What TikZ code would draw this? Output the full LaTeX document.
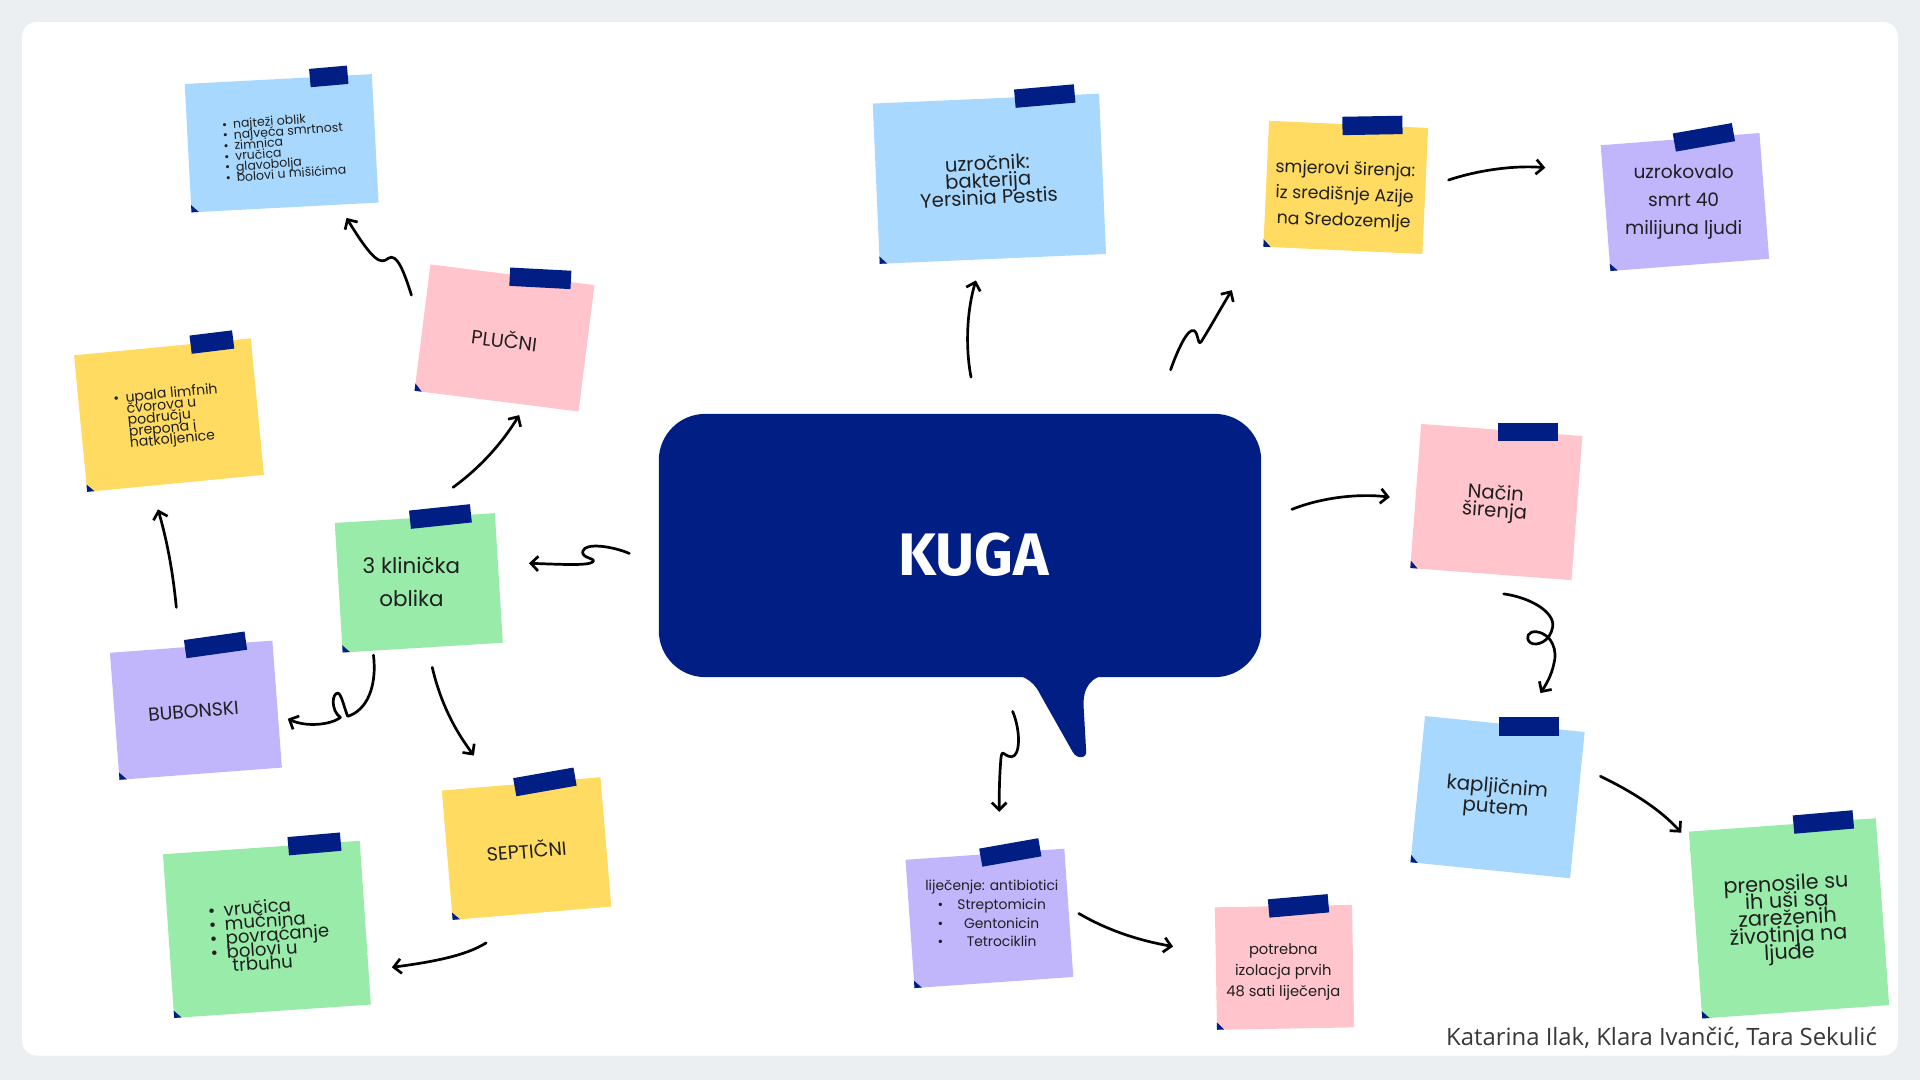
\documentclass[tikz,border=0pt]{standalone}
\usepackage{fontspec}
\setmainfont{Poppins}
\newfontfamily\kugafont{Fira Sans}
\newfontfamily\authfont{Open Sans}
\usetikzlibrary{calc,arrows.meta}
\definecolor{navy}{HTML}{011E84}
\definecolor{cblue}{HTML}{A8D8FE}
\definecolor{cpink}{HTML}{FFC4CC}
\definecolor{cyellow}{HTML}{FFDB62}
\definecolor{cgreen}{HTML}{99EBAA}
\definecolor{cpurple}{HTML}{C1B6FC}
\definecolor{bgray}{HTML}{EBEFF2}
\newcommand\fs[2]{\fontsize{#1}{#2}\selectfont\lineskiplimit=-100pt\relax}
\newcommand\bl[1]{\makebox[#1][l]{\textbullet}}
\newcommand\tapew{50}
\newcommand\postit[9]{%
  \node[notebox, fill=#2, minimum width=#5pt, minimum height=#6pt, rotate=#7] (#1) at (#3,#4) {};
  \node[tapebox, minimum width=\tapew pt, rotate=#9] (#1-tape) at ($(#1.north west)!#8!(#1.north east)$) {};
  \fill[navy] (#1.south west) -- ($(#1.south west)!6pt!(#1.south east)$) -- ($(#1.south west)!6pt!(#1.north west)$) -- cycle;
}
\tikzset{
  notebox/.style={draw=none, inner sep=0pt, outer sep=0pt},
  tapebox/.style={fill=navy, draw=none, minimum height=15pt, inner sep=0pt},
  txt/.style={inner sep=0pt, align=center, text=black!88},
  arr/.style={draw=black, line width=2.2pt, line cap=round, line join=round,
    -{Straight Barb[length=6pt,width=12pt]}},
}
\begin{document}
\begin{tikzpicture}[x=1pt,y=-1pt]
\useasboundingbox (0,0) rectangle (1568,882);
\fill[bgray] (0,0) rectangle (1568,882);
\fill[white, rounded corners=12pt] (18,18) rectangle (1550,862);

% central bubble
\fill[navy, rounded corners=38pt] (538,338) rectangle (1030,553);
\fill[navy] (822,550) .. controls (840,551) and (846,560) .. (850,568) -- (876,614)
  .. controls (879,620) and (888,620) .. (887,613) -- (885,578)
  .. controls (884,562) and (890,552) .. (908,550) -- cycle;
\node[font=\kugafont\bfseries\fs{49}{55}, text=white, inner sep=0pt] (kuga) at (795,453) {KUGA};

% notes
\renewcommand\tapew{31}
\postit{ntop}{cblue}{230}{117}{153}{105}{3}{0.77}{5}
\renewcommand\tapew{35}
\postit{nyel}{cyellow}{138}{339}{145}{112}{5.5}{0.78}{7}
\renewcommand\tapew{50}
\postit{npluc}{cpink}{412}{276}{135}{104}{-7.2}{0.67}{-3}
\postit{nklin}{cgreen}{342}{476}{131}{106}{3.5}{0.66}{6}
\postit{nbub}{cpurple}{160}{580}{133}{104}{4.3}{0.65}{8}
\postit{nsep}{cyellow}{430}{693}{130}{106}{4.8}{0.65}{10}
\renewcommand\tapew{43}
\postit{nsym}{cgreen}{218}{759}{161}{134}{3.9}{0.77}{5}
\renewcommand\tapew{49}
\postit{nuzr}{cblue}{808}{146}{185}{131}{2.5}{0.76}{5}
\postit{nsmj}{cyellow}{1099}{153}{130}{103}{-2.6}{0.65}{1}
\postit{nsmrt}{cpurple}{1376}{165}{130}{103}{4.4}{0.65}{10}
\postit{nnac}{cpink}{1222}{410}{132}{118}{-4.3}{0.66}{0}
\postit{nkap}{cblue}{1223}{651}{131}{120}{-5.7}{0.65}{0}
\postit{npre}{cgreen}{1461}{750}{153}{153}{4.1}{0.72}{5}
\postit{nlij}{cpurple}{808}{750}{130}{105}{4}{0.66}{10}
\postit{npot}{cpink}{1049}{790}{112}{100}{1}{0.61}{5}

% note texts
\node[txt, align=left, rotate=4, font=\fs{10.2}{8.7}] (ntop-t) at (232,120)
  {\bl{9pt}najteži oblik\\\bl{9pt}najveća smrtnost\\\bl{9pt}zimnica\\\bl{9pt}vručica\\\bl{9pt}glavobolja\\\bl{9pt}bolovi u mišićima};
\node[txt, align=left, rotate=5.5, font=\fs{11.5}{9.4}] (nyel-t) at (137,341)
  {\bl{10pt}upala limfnih\\\hspace*{10pt}čvorova u\\\hspace*{10pt}području\\\hspace*{10pt}prepona i\\\hspace*{10pt}natkoljenice};
\node[txt, rotate=-7, font=\fs{15.8}{18}] (npluc-t) at (412,277) {PLUČNI};
\node[txt, font=\fs{17.5}{27}] (nklin-t) at (336,475) {3 klinička\\oblika};
\node[txt, rotate=5, font=\fs{15.4}{18}] (nbub-t) at (158,581) {BUBONSKI};
\node[txt, rotate=5, font=\fs{15.6}{18}] (nsep-t) at (430,694) {SEPTIČNI};
\node[txt, align=left, rotate=4, font=\fs{14.8}{11.5}] (nsym-t) at (220,763)
  {\bl{13pt}vručica\\\bl{13pt}mučnina\\\bl{13pt}povraćanje\\\bl{13pt}bolovi u\\\hspace*{17pt}trbuhu};
\node[txt, rotate=3, font=\fs{16}{14}] (nuzr-t) at (807,147) {uzročnik:\\bakterija\\Yersinia Pestis};
\node[txt, rotate=-2, font=\fs{14.2}{21}] (nsmj-t) at (1098,160) {smjerovi širenja:\\iz središnje Azije\\na Sredozemlje};
\node[txt, font=\fs{15.2}{23}] (nsmrt-t) at (1375,165) {uzrokovalo\\smrt 40\\milijuna ljudi};
\node[txt, rotate=-4, font=\fs{16}{14.5}] (nnac-t) at (1221,411) {Način\\širenja};
\node[txt, rotate=-5, font=\fs{16.2}{17}] (nkap-t) at (1222,652) {kapljičnim\\putem};
\node[txt, rotate=3, font=\fs{17}{14}] (npre-t) at (1460,751) {prenosile su\\ih uši sa\\zareženih\\životinja na\\ljude};
\node[txt, font=\fs{11.3}{15.3}] (nlij-t) at (810,746)
  {liječenje: antibiotici\\\makebox[16pt]{\textbullet}\makebox[84pt]{Streptomicin}\\\makebox[16pt]{\textbullet}\makebox[84pt]{Gentonicin}\\\makebox[16pt]{\textbullet}\makebox[84pt]{Tetrociklin}};
\node[txt, font=\fs{12}{17}] (npot-t) at (1048,794) {potrebna\\izolacja prvih\\48 sati liječenja};

% author
\node[anchor=base east, inner sep=0pt, font=\authfont\fs{19.5}{24}, text=black!78] (auth) at (1533,854)
  {Katarina Ilak, Klara Ivančić, Tara Sekulić};

% connector end points
\coordinate (a1s) at (514,452); \coordinate (a1e) at (432,460);
\coordinate (a2s) at (370,398); \coordinate (a2e) at (424,339);
\coordinate (a3s) at (336,241); \coordinate (a3e) at (283,178);
\coordinate (a4s) at (144,496); \coordinate (a4e) at (129,416);
\coordinate (a5s) at (305,535); \coordinate (a5e) at (235,587);
\coordinate (a6s) at (353,545); \coordinate (a6e) at (387,617);
\coordinate (a7s) at (397,770); \coordinate (a7e) at (320,790);
\coordinate (a8s) at (793,308); \coordinate (a8e) at (797,229);
\coordinate (a9s) at (956,302); \coordinate (a9e) at (1006,237);
\coordinate (a10s) at (1183,147); \coordinate (a10e) at (1262,137);
\coordinate (a11s) at (1055,416); \coordinate (a11e) at (1135,406);
\coordinate (a12s) at (1228,485); \coordinate (a12e) at (1258,566);
\coordinate (a13s) at (1307,634); \coordinate (a13e) at (1373,680);
\coordinate (a14s) at (827,581); \coordinate (a14e) at (816,663);
\coordinate (a15s) at (881,746); \coordinate (a15e) at (958,773);

% connectors
\draw[arr] (a1s) .. controls (500,446) and (478,443) .. (476,450)
  .. controls (474,456) and (488,456) .. (484,459)
  .. controls (480,462) and (460,461) .. (a1e);
\draw[arr] (a2s) .. controls (392,382) and (410,362) .. (a2e);
\draw[arr] (a3s) .. controls (330,222) and (324,206) .. (317,211)
  .. controls (311,216) and (305,214) .. (a3e);
\draw[arr] (a4s) .. controls (141,465) and (136,440) .. (a4e);
\draw[arr] (a5s) .. controls (308,560) and (300,580) .. (284,585)
  .. controls (281,578) and (279,567) .. (276,566)
  .. controls (271,566) and (270,580) .. (278,586)
  .. controls (270,592) and (250,594) .. (a5e);
\draw[arr] (a6s) .. controls (360,575) and (372,597) .. (a6e);
\draw[arr] (a7s) .. controls (380,781) and (350,786) .. (a7e);
\draw[arr] (a8s) .. controls (788,282) and (790,252) .. (a8e);
\draw[arr] (a9s) .. controls (962,285) and (970,268) .. (975,270)
  .. controls (979,272) and (978,283) .. (981,279)
  .. controls (988,268) and (998,250) .. (a9e);
\draw[arr] (a10s) .. controls (1210,138) and (1240,135) .. (a10e);
\draw[arr] (a11s) .. controls (1080,406) and (1110,403) .. (a11e);
\draw[arr] (a12s) .. controls (1250,488) and (1270,500) .. (1268,512)
  .. controls (1266,524) and (1255,528) .. (1250,525)
  .. controls (1245,521) and (1248,515) .. (1255,516)
  .. controls (1268,518) and (1272,532) .. (1269,542)
  .. controls (1267,552) and (1262,560) .. (a12e);
\draw[arr] (a13s) .. controls (1330,645) and (1355,660) .. (a13e);
\draw[arr] (a14s) .. controls (834,598) and (833,618) .. (826,618)
  .. controls (819,618) and (818,608) .. (817,625)
  .. controls (816,640) and (816,652) .. (a14e);
\draw[arr] (a15s) .. controls (905,760) and (930,768) .. (a15e);
\end{tikzpicture}
\end{document}
